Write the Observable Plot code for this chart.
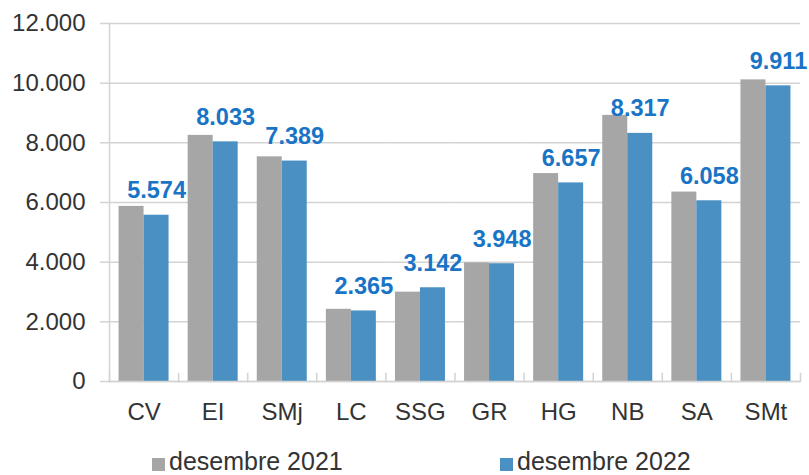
<!DOCTYPE html>
<html>
<head>
<meta charset="utf-8">
<script src="https://cdn.jsdelivr.net/npm/d3@7"></script>
<script src="https://cdn.jsdelivr.net/npm/@observablehq/plot@0.6"></script>
<style>
  html, body { margin: 0; padding: 0; background: #fff; }
  #wrap { position: relative; width: 809px; height: 475px; overflow: hidden; font-family: "Liberation Sans", Arial, sans-serif; }
  .leg { position: absolute; top: 449px; height: 24px; line-height: 24px; font-size: 25px; color: #333; white-space: nowrap; }
  .leg i { display: inline-block; width: 13px; height: 13px; margin-right: 4px; vertical-align: -1px; }
</style>
</head>
<body>
<div id="wrap"></div>
<script>
const categories = ["CV", "EI", "SMj", "LC", "SSG", "GR", "HG", "NB", "SA", "SMt"];
const seriesNames = ["desembre 2021", "desembre 2022"];
const values2021 = [5870, 8250, 7530, 2420, 2995, 3975, 6970, 8920, 6350, 10110];
const values2022 = [5574, 8033, 7389, 2365, 3142, 3948, 6657, 8317, 6058, 9911];
const yTicks = [0, 2000, 4000, 6000, 8000, 10000, 12000];
const colors = ["#a6a6a6", "#4a90c2"];

const data = [];
categories.forEach((c, i) => {
  data.push({cat: c, series: seriesNames[0], value: values2021[i]});
  data.push({cat: c, series: seriesNames[1], value: values2022[i]});
});
const labelData = data.filter(d => d.series === seriesNames[1]);

const loc = d3.formatLocale({decimal: ",", thousands: ".", grouping: [3], currency: ["", "€"]});
const fmt = loc.format(",d");

const gridColor = "#d3d3d3";

const plot = Plot.plot({
  width: 809,
  height: 440,
  marginLeft: 109,
  marginRight: 9,
  marginTop: 23,
  marginBottom: 59,
  style: {fontFamily: "'Liberation Sans', Arial, sans-serif", fontSize: "24px", color: "#333", background: "#fff", overflow: "visible"},
  fx: {domain: categories, padding: 0, round: false},
  x: {domain: seriesNames, paddingInner: 0, paddingOuter: 0.382, round: false, axis: null},
  y: {domain: [0, 12000], axis: null},
  color: {domain: seriesNames, range: colors},
  marks: [
    Plot.gridY(yTicks, {stroke: gridColor, strokeOpacity: 1, strokeWidth: 1.5}),
    Plot.axisY(yTicks, {tickSize: 9, tickPadding: 15, stroke: gridColor, strokeWidth: 1.5, fill: "#333", fontSize: 24, tickFormat: fmt, label: null}),
    Plot.frame({anchor: "left", facetAnchor: "left", stroke: gridColor, strokeWidth: 1.5}),
    Plot.frame({anchor: "left", insetTop: 350, stroke: gridColor, strokeWidth: 1.5}),
    Plot.frame({anchor: "right", facetAnchor: "right", insetTop: 350, stroke: gridColor, strokeWidth: 1.5}),
    Plot.barY(data, {fx: "cat", x: "series", y: "value", fill: "series"}),
    Plot.ruleY([0], {stroke: gridColor, strokeWidth: 1.5}),
    Plot.text(labelData, {fx: "cat", x: "series", y: "value", text: d => fmt(d.value), dy: -17, lineAnchor: "bottom", fill: "#1a74c6", fontWeight: "bold", fontSize: 23.5}),
    Plot.axisFx({anchor: "bottom", tickSize: 0, tickPadding: 21, fontSize: 24, fill: "#333", label: null})
  ]
});

const wrap = document.getElementById("wrap");
wrap.appendChild(plot);

const legendPos = [152, 500];
seriesNames.forEach((name, i) => {
  const el = document.createElement("div");
  el.className = "leg";
  el.style.left = legendPos[i] + "px";
  const sw = document.createElement("i");
  sw.style.background = colors[i];
  el.appendChild(sw);
  el.appendChild(document.createTextNode(name));
  wrap.appendChild(el);
});
</script>
</body>
</html>
